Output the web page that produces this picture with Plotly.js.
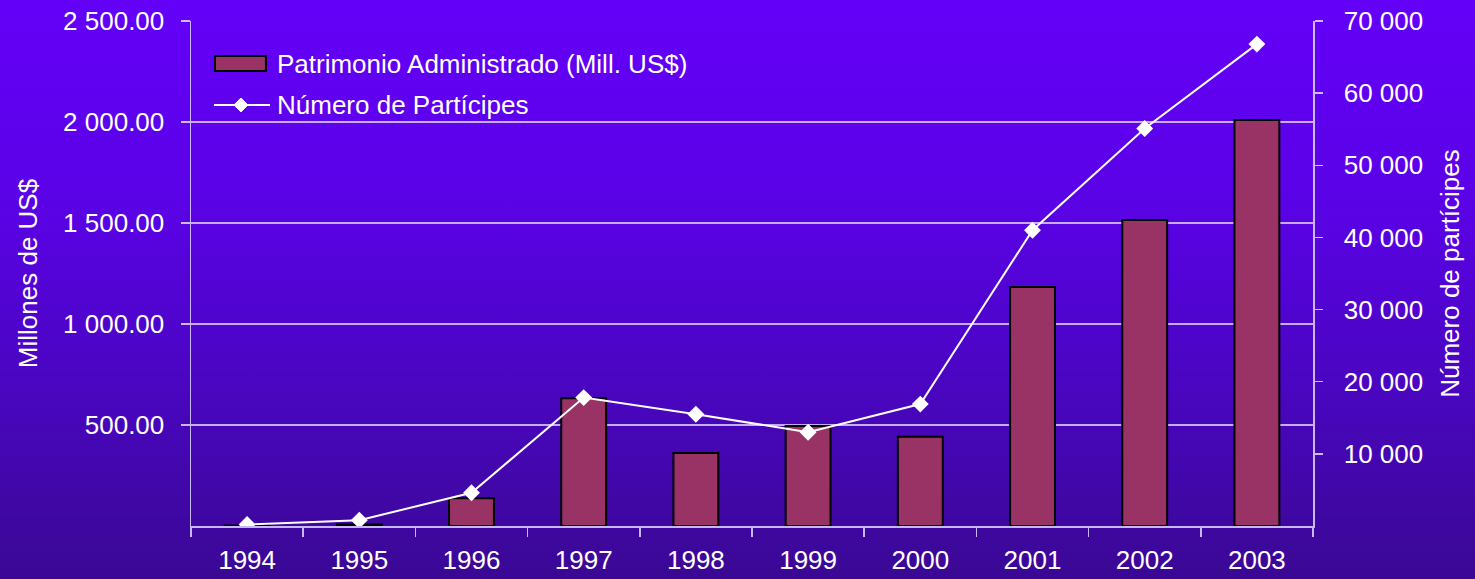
<!DOCTYPE html>
<html>
<head>
<meta charset="utf-8">
<script src="https://cdn.plot.ly/plotly-3.0.1.min.js"></script>
<style>
html,body{margin:0;padding:0;width:1475px;height:579px;overflow:hidden;
background:linear-gradient(to bottom,#6400f8 0%,#5a02e6 35%,#4806bc 70%,#3a0894 100%);}
#chart{width:1475px;height:579px;}
</style>
</head>
<body>
<div id="chart"></div>
<script>
const years = ['1994','1995','1996','1997','1998','1999','2000','2001','2002','2003'];
const patrimonio = [2, 8, 137, 632, 361, 495, 442, 1183, 1515, 2010];
const participes = [200, 800, 4600, 17800, 15500, 13000, 16900, 41000, 55100, 66800];
const leftTickVals = [500, 1000, 1500, 2000, 2500];
const leftTickText = ['500.00', '1 000.00', '1 500.00', '2 000.00', '2 500.00'];
const rightTickVals = [10000, 20000, 30000, 40000, 50000, 60000, 70000];
const rightTickText = ['10 000', '20 000', '30 000', '40 000', '50 000', '60 000', '70 000'];
const seriesNames = ['Patrimonio Administrado (Mill. US$)', 'Número de Partícipes'];

const axisCol = 'rgba(225,215,255,0.85)';
const font = {family: 'Liberation Sans, Arial, sans-serif', size: 26, color: '#ffffff'};

const traces = [
  {
    type: 'bar', x: years, y: patrimonio, name: seriesNames[0],
    marker: {color: '#993366', line: {color: '#000000', width: 2}},
    width: 0.4, yaxis: 'y', showlegend: false
  },
  {
    type: 'scatter', mode: 'lines+markers', x: years, y: participes, name: seriesNames[1],
    line: {color: '#ffffff', width: 2},
    marker: {symbol: 'diamond', size: 13, color: '#ffffff'},
    yaxis: 'y2', showlegend: false
  }
];

// custom legend (drawn to mimic the original wide swatches)
const shapes = [
  {type: 'rect', xref: 'paper', yref: 'paper', x0: 0.0214, x1: 0.0668, y0: 0.901, y1: 0.9307,
   fillcolor: '#993366', line: {color: '#000000', width: 2}},
  {type: 'line', xref: 'paper', yref: 'paper', x0: 0.0205, x1: 0.0704, y0: 0.8337, y1: 0.8337,
   line: {color: '#ffffff', width: 2}},
  {type: 'path', xref: 'paper', yref: 'paper', xsizemode: 'pixel', ysizemode: 'pixel',
   xanchor: 0.0445, yanchor: 0.8337, path: 'M0,7 L7,0 L0,-7 L-7,0 Z',
   fillcolor: '#ffffff', line: {color: '#ffffff', width: 1}}
];
const annotations = [
  {xref: 'paper', yref: 'paper', x: 0.0749, y: 0.9158, xanchor: 'left', yanchor: 'middle',
   text: seriesNames[0], showarrow: false, font: font},
  {xref: 'paper', yref: 'paper', x: 0.0749, y: 0.8337, xanchor: 'left', yanchor: 'middle',
   text: seriesNames[1], showarrow: false, font: font}
];

const layout = {
  width: 1475, height: 579,
  margin: {l: 191, r: 162, t: 21, b: 53, pad: 0},
  paper_bgcolor: 'rgba(0,0,0,0)', plot_bgcolor: 'rgba(0,0,0,0)',
  font: font,
  showlegend: false,
  bargap: 0.6,
  shapes: shapes,
  annotations: annotations,
  xaxis: {
    type: 'category', showline: true, linecolor: axisCol, linewidth: 1.5,
    ticks: 'outside', tickson: 'boundaries', ticklen: 9, tickcolor: axisCol, tickwidth: 1.5,
    showgrid: false, tickfont: font, ticklabelstandoff: 10, range: [-0.5, 9.5]
  },
  yaxis: {
    range: [0, 2500], tickvals: leftTickVals, ticktext: leftTickText,
    showline: true, linecolor: axisCol, linewidth: 1.5,
    ticks: 'outside', ticklen: 9, tickcolor: axisCol, tickwidth: 1.5,
    showgrid: true, gridcolor: 'rgba(225,215,255,0.8)', gridwidth: 1.2,
    zeroline: false, tickfont: font, ticklabelstandoff: 11,
    title: {text: 'Millones de US$', font: font, standoff: 18}
  },
  yaxis2: {
    range: [0, 70000], tickvals: rightTickVals, ticktext: rightTickText,
    overlaying: 'y', side: 'right',
    showline: true, linecolor: axisCol, linewidth: 1.5,
    ticks: 'outside', ticklen: 8, tickcolor: axisCol, tickwidth: 1.5,
    showgrid: false, zeroline: false, tickfont: font, ticklabelstandoff: 16,
    title: {text: 'Número de partícipes', font: font, standoff: 18}
  }
};

Plotly.newPlot('chart', traces, layout, {displayModeBar: false, staticPlot: true});
</script>
</body>
</html>
